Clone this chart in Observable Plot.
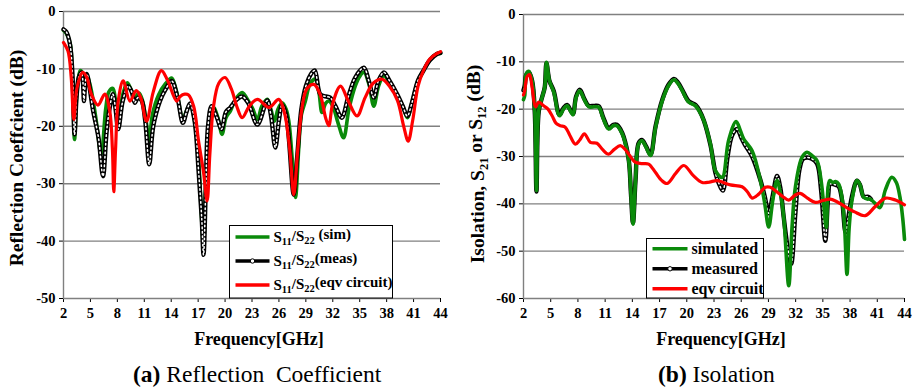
<!DOCTYPE html>
<html><head><meta charset="utf-8">
<script src="https://cdn.jsdelivr.net/npm/d3@7"></script>
<script src="https://cdn.jsdelivr.net/npm/@observablehq/plot@0.6"></script>
<style>
body{margin:0;background:#fff;}
#wrap{position:relative;width:917px;height:390px;font-family:"Liberation Serif","Times New Roman",serif;overflow:hidden;}
.panel{position:absolute;top:0;}
.panel text{font-family:"Liberation Serif","Times New Roman",serif;}
.cap{position:absolute;top:361px;font-size:23.5px;white-space:pre;line-height:26px;}
</style></head><body><div id="wrap"></div>
<script>
// ---------- data ----------
const xTicks = [2,5,8,11,14,17,20,23,26,29,32,35,38,41,44];
const yTicksA = [0,-10,-20,-30,-40,-50];
const yTicksB = [0,-10,-20,-30,-40,-50,-60];

// (a) Reflection coefficient
const reflSim = [[2,-3.3],[2.3,-3.8],[2.74,-5.5],[3.0,-12],[3.23,-22.3],[3.5,-14],[3.85,-10.3],[4.05,-10.5],[4.3,-13.4],[4.55,-11],[5.0,-13],[5.6,-18.5],[6.2,-24.9],[6.7,-17],[7.05,-14],[7.5,-13.4],[7.8,-15.5],[8.15,-18],[8.6,-14.5],[9.1,-12.4],[9.5,-13.5],[9.95,-15],[10.4,-14.2],[10.8,-15.5],[11.2,-19],[11.55,-22.6],[11.9,-18],[12.6,-14.5],[13.4,-12.5],[14.05,-11.6],[14.6,-14],[15.3,-18.8],[15.7,-17.3],[16.1,-16.2],[16.6,-19],[17.06,-26],[17.35,-35],[17.6,-41],[17.85,-30],[18.2,-21.4],[18.7,-16.7],[19.2,-18.5],[19.66,-21.4],[20.1,-18.5],[20.6,-17.3],[21.2,-15.2],[21.9,-14.1],[22.6,-15.6],[23.1,-17],[23.6,-18.8],[24.1,-16.5],[24.7,-15.3],[25.1,-17],[25.5,-19.1],[25.9,-17],[26.35,-15.9],[26.8,-17],[27.1,-19.1],[27.5,-26],[27.84,-32.4],[28.2,-24],[28.5,-18],[28.95,-15.6],[29.5,-12.5],[30.07,-11.8],[30.45,-14],[30.8,-17.6],[31.2,-16],[31.55,-15.6],[32.0,-16.5],[32.6,-19.5],[33.2,-22],[33.8,-17],[34.5,-13],[35.0,-11.3],[35.46,-10.6],[36.0,-12.5],[36.57,-16.5],[37.1,-13],[37.7,-11.2],[38.3,-12.5],[39.2,-15],[39.8,-16.5],[40.3,-18.5],[40.8,-16],[41.5,-12],[42.1,-10.3],[42.8,-8.5],[43.6,-7.4],[44,-7.3]];
const reflMeas = [[2,-3.1],[2.3,-3.5],[2.7,-5.5],[3.0,-11],[3.23,-21.4],[3.45,-15],[3.7,-11.5],[4.0,-10.6],[4.15,-12],[4.28,-15.6],[4.4,-13],[4.6,-10.9],[5.3,-17.3],[5.9,-22],[6.4,-28.7],[6.8,-21],[7.15,-16.7],[7.5,-14.4],[7.8,-17],[8.1,-20.5],[8.6,-15.6],[9.2,-13],[9.6,-14],[9.95,-15.9],[10.3,-15],[10.7,-15.5],[11.1,-19],[11.55,-26.6],[12.0,-20],[12.75,-15.6],[13.4,-13.5],[14.05,-12.1],[14.7,-15],[15.3,-19.4],[15.7,-17.5],[16.1,-16],[16.6,-19],[17.06,-28],[17.4,-36],[17.6,-42.4],[17.85,-31],[18.1,-20],[18.5,-16.5],[19.1,-18.5],[19.6,-20.5],[20.1,-17.5],[20.6,-16.7],[21.2,-15.5],[21.9,-14.8],[22.6,-16],[23.6,-19.7],[24.7,-15.5],[25.1,-18],[25.6,-23.7],[26.0,-19],[26.35,-16.3],[26.8,-18],[27.65,-31.9],[28.0,-26],[28.5,-17],[29.0,-13],[29.7,-10.6],[30.0,-10.3],[30.6,-14.4],[31.2,-14.8],[31.7,-15],[32.3,-16.5],[33.0,-18.5],[33.7,-15],[34.5,-11.5],[35.46,-9.8],[36.0,-12],[36.57,-15],[37.1,-12],[37.7,-10.6],[38.3,-12],[39.2,-14.5],[39.8,-16.5],[40.3,-18.2],[40.8,-16],[41.5,-12],[42.1,-10.3],[42.8,-8.5],[43.6,-7.4],[44,-7.2]];
const reflEqv = [[2,-5.4],[2.5,-6.9],[2.86,-11.5],[3.15,-18.8],[3.5,-13.3],[4.16,-10.6],[4.6,-11.5],[5.1,-14.4],[5.84,-16.3],[6.6,-14.4],[7.15,-17.3],[7.45,-24],[7.6,-31.4],[7.8,-24],[8.1,-15.6],[8.65,-12.1],[9.4,-15.6],[10.1,-13.8],[10.6,-15],[11.25,-19.1],[12.0,-14],[12.9,-10.3],[13.6,-12],[14.6,-15.6],[15.0,-14.8],[15.5,-14.4],[15.9,-14.5],[16.5,-16.5],[17.05,-22.6],[17.6,-28],[18.0,-33],[18.3,-25],[18.7,-16.7],[19.3,-12.5],[20.0,-11.5],[20.7,-13.5],[21.3,-16.5],[21.9,-18.5],[22.7,-16.5],[23.6,-15.3],[24.9,-16.7],[25.98,-15.3],[26.6,-17.5],[27.2,-24],[27.65,-31.9],[28.1,-24],[28.6,-16.5],[29.1,-13.5],[29.9,-12.7],[30.6,-14.5],[31.2,-18.5],[31.55,-19.9],[32.0,-16],[32.86,-13],[33.7,-15.5],[34.7,-18.2],[35.6,-15],[36.5,-12.5],[37.5,-11.8],[38.3,-13],[39.2,-15.5],[39.9,-20],[40.4,-22.6],[40.9,-19],[41.5,-13],[42.1,-10.3],[42.8,-8.3],[43.6,-7.3],[44,-7]];

// (b) Isolation
const isoSim = [[2,-18],[2.14,-17.1],[2.29,-12.6],[2.58,-12],[2.95,-14],[3.24,-20.3],[3.43,-37.2],[3.68,-20.3],[4.05,-17.5],[4.34,-15.4],[4.53,-10.1],[4.86,-14],[5.34,-16.4],[5.96,-21.4],[6.4,-20],[6.8,-19.3],[7.2,-20.5],[7.46,-21.2],[7.8,-17.5],[8.2,-16.1],[8.7,-18],[9.19,-19.5],[9.8,-19.5],[10.3,-19.6],[10.8,-22],[11.39,-24.2],[11.9,-23.5],[12.3,-23.5],[12.7,-24.5],[13.04,-26],[13.6,-30.9],[13.85,-38],[14.07,-44.3],[14.35,-35],[14.69,-27.4],[15.06,-26.7],[15.5,-28],[16.0,-29.8],[16.56,-23.8],[17.3,-18.2],[18.0,-15],[18.58,-13.8],[19.0,-14.5],[19.5,-16.1],[20.2,-18.5],[20.96,-19.3],[21.4,-20.5],[21.88,-22.4],[22.61,-27.4],[23.16,-33],[23.9,-34.4],[24.6,-26.7],[25.44,-22.6],[25.9,-24.5],[26.28,-26.3],[27.2,-28.8],[28.12,-35.1],[28.6,-40],[29.03,-44.9],[29.5,-39],[29.95,-35.1],[30.3,-37.5],[30.69,-42.9],[31.24,-57.3],[31.6,-45],[31.97,-36.5],[32.7,-30.2],[33.26,-29.1],[33.8,-29.8],[34.36,-30.9],[34.8,-35],[35.09,-40.1],[35.38,-45],[35.75,-35.1],[36.1,-35.5],[36.4,-35.3],[36.74,-35.8],[37.1,-38.6],[37.4,-45],[37.66,-54.9],[37.9,-45],[38.2,-39.4],[38.76,-35.1],[39.1,-36],[39.49,-38.6],[39.9,-39],[40.23,-39],[40.7,-39.8],[41.3,-40.8],[41.9,-37],[42.6,-34.4],[43.1,-35.5],[43.5,-38.6],[43.8,-43],[44,-47.5]];
const isoMeas = [[2,-16],[2.14,-15],[2.29,-12.8],[2.58,-12.2],[2.95,-14],[3.24,-20.5],[3.43,-37.4],[3.68,-20.5],[4.05,-17.5],[4.34,-15.4],[4.53,-10.3],[4.86,-14],[5.34,-16.2],[5.96,-21.2],[6.4,-19.8],[6.8,-19.1],[7.2,-20.3],[7.46,-21],[7.8,-17.3],[8.2,-15.9],[8.7,-17.8],[9.19,-19.3],[9.8,-19.3],[10.3,-19.4],[10.8,-21.8],[11.39,-24],[11.9,-23.3],[12.3,-23.3],[12.7,-24.3],[13.04,-25.8],[13.6,-30.7],[13.85,-38],[14.07,-44],[14.35,-35],[14.69,-27.2],[15.06,-26.5],[15.5,-27.8],[16.0,-29.6],[16.56,-23.6],[17.3,-18],[18.0,-14.8],[18.58,-13.6],[19.0,-14.3],[19.5,-15.9],[20.2,-18.3],[20.96,-19.1],[21.4,-20.3],[21.88,-22.4],[22.61,-27.6],[23.16,-33.5],[23.5,-35.5],[23.97,-37.2],[24.5,-30],[25.0,-25.5],[25.55,-24.2],[26.0,-26],[26.4,-27.5],[27.2,-30],[28.12,-35],[28.6,-38.5],[29.03,-42],[29.5,-38],[29.95,-34.1],[30.3,-36.5],[30.69,-42.9],[31.1,-49],[31.5,-52.7],[31.97,-42],[32.4,-33],[32.8,-30.5],[33.26,-30.2],[33.8,-30.5],[34.36,-31.5],[34.8,-37],[35.27,-47.8],[35.6,-38],[35.8,-35.8],[36.4,-36],[36.74,-36.3],[37.1,-39],[37.5,-46],[37.8,-43],[38.2,-38.5],[38.76,-35.1],[39.1,-36],[39.5,-38.5],[40.0,-38.5],[40.3,-39]];
const isoEqv = [[2,-17],[2.14,-16.1],[2.4,-13.1],[2.66,-12.7],[2.95,-15.4],[3.32,-19.5],[3.68,-18.5],[4.23,-19.3],[4.7,-20],[5.15,-21.4],[5.6,-23],[6.07,-23.5],[6.6,-23.8],[7.1,-25.5],[7.72,-27.4],[8.2,-26.5],[8.71,-25.2],[9.37,-27],[10.1,-27.2],[10.7,-28.5],[11.39,-29.5],[12.0,-28.5],[12.67,-27.7],[13.2,-28.5],[13.6,-29.5],[14.32,-31.2],[15.0,-31.5],[15.79,-31.6],[16.56,-33.4],[17.2,-35],[17.84,-35.7],[18.8,-33.5],[19.68,-31.9],[20.7,-34],[21.7,-35.5],[22.5,-35.4],[23.35,-35.1],[24.8,-36],[26.1,-36.4],[26.7,-37.5],[27.2,-38.8],[27.9,-38],[28.67,-36.5],[29.22,-36.5],[29.95,-37.5],[30.6,-38.5],[31.24,-39.2],[31.9,-38.2],[32.5,-37.8],[33.3,-38.8],[34.17,-39.7],[35.0,-39.3],[35.8,-39],[36.5,-39.5],[37.29,-40.4],[38.5,-41.7],[39.67,-42.5],[40.8,-40.5],[41.9,-38.8],[43.0,-39.2],[44,-40.2]];

const legendA = ["S11/S22 (sim)","S11/S22(meas)","S11/S22(eqv circuit)"];
const legendB = ["simulated","measured","eqv circuit"];
const GREEN = "#0a8a0a", RED = "#ff0000", GRID = "#808080";
const FONT = '"Liberation Serif","Times New Roman",serif';

const toObj = a => a.map(([f,db]) => ({f, db}));

function makePanel(cfg){
  const sim = toObj(cfg.sim), meas = toObj(cfg.meas), eqv = toObj(cfg.eqv);
  const simMark = Plot.line(sim, {x:"f", y:"db", stroke:GREEN, strokeWidth:3.6, curve:"catmull-rom"});
  const measMarks = [
    Plot.line(meas, {x:"f", y:"db", stroke:"#000", strokeWidth:4.4, curve:"catmull-rom"}),
    Plot.line(meas, {x:"f", y:"db", stroke:"#fff", strokeWidth:1.5, strokeDasharray:"1.5,2.8", curve:"catmull-rom"})
  ];
  const order = cfg.greenOnTop ? [...measMarks, simMark] : [simMark, ...measMarks];
  return Plot.plot({
    width: cfg.width, height: 352,
    marginLeft: cfg.ml, marginRight: cfg.mr, marginTop: cfg.mt, marginBottom: 54,
    x: {domain:[2,44], ticks: xTicks, tickFormat: d => String(d), tickSize:4, tickPadding:5, label:null},
    y: {domain:[cfg.ymin,0], ticks: cfg.yTicks, tickFormat: d => String(d), tickSize:4, tickPadding:4, label:null},
    style: {fontFamily:FONT, fontSize:"14.5px", fontWeight:"bold", color:"#000", background:"white", overflow:"visible"},
    marks: [
      Plot.ruleY(cfg.yTicks, {stroke:GRID, strokeWidth:1.4}),
      Plot.ruleX([2], {stroke:GRID, strokeWidth:1.4}),
      ...order,
      Plot.line(eqv, {x:"f", y:"db", stroke:RED, strokeWidth:3.2, curve:"catmull-rom"})
    ]
  });
}

function subText(sel, str, small){
  const re = /S(\d\d)/g; let last = 0, m, down = false;
  const add = t => { const ts = sel.append("tspan").text(t); if (down){ ts.attr("dy","-0.3em"); down = false; } return ts; };
  while ((m = re.exec(str))){
    if (m.index > last) add(str.slice(last, m.index));
    add("S");
    sel.append("tspan").text(m[1]).attr("font-size", small).attr("dy","0.3em");
    down = true; last = re.lastIndex;
  }
  if (last < str.length) add(str.slice(last));
}

const wrap = document.getElementById("wrap");
const pa = makePanel({width:458, ml:63, mr:18, mt:11, ymin:-50, yTicks:yTicksA, sim:reflSim, meas:reflMeas, eqv:reflEqv, greenOnTop:false});
pa.classList.add("panel"); pa.style.left = "0px"; wrap.appendChild(pa);
const pb = makePanel({width:457, ml:63, mr:13, mt:14, ymin:-60, yTicks:yTicksB, sim:isoSim, meas:isoMeas, eqv:isoEqv, greenOnTop:true});
pb.classList.add("panel"); pb.style.left = "460px"; wrap.appendChild(pb);

function decorate(svg, o){
  const s = d3.select(svg);
  s.append("text").attr("x", o.xTitleX).attr("y", 345).attr("text-anchor","middle")
    .attr("font-family",FONT).attr("font-size",18).attr("font-weight","bold").text("Frequency[GHz]");
  const yt = s.append("text").attr("transform",`translate(${o.yTitleX},${o.yTitleY}) rotate(-90)`)
    .attr("text-anchor","middle").attr("font-family",FONT).attr("font-size",19.5).attr("font-weight","bold");
  subText(yt, o.yTitle, 12.5);
  const g = s.append("g").attr("font-family",FONT).attr("font-weight","bold").attr("font-size",o.fs).attr("text-anchor","start");
  g.append("rect").attr("x",o.lx).attr("y",o.ly).attr("width",o.lw).attr("height",o.lh)
    .attr("fill","white").attr("stroke","#000").attr("stroke-width",1);
  const cols = [GREEN, "#000", RED];
  o.labels.forEach((lab, i) => {
    const y = o.ly + o.row0 + i*o.rowH;
    g.append("line").attr("x1",o.lx+6).attr("x2",o.lx+6+o.lineLen).attr("y1",y).attr("y2",y)
      .attr("stroke",cols[i]).attr("stroke-width", 3.6);
    if (i===1) g.append("circle").attr("cx",o.lx+6+o.lineLen/2).attr("cy",y).attr("r",2.2).attr("fill","white").attr("stroke","#000").attr("stroke-width",1);
    const t = g.append("text").attr("x",o.lx+6+o.lineLen+4).attr("y",y+5).attr("text-anchor","start");
    subText(t, lab, 10.5);
  });
}
decorate(pa, {xTitleX:259, yTitleX:23, yTitleY:158, yTitle:"Reflection Coeffcient (dB)", fs:15,
  lx:229.5, ly:225.5, lw:163, lh:72.5, row0:11.5, rowH:24, lineLen:34, labels:legendA});
decorate(pb, {xTitleX:261, yTitleX:24, yTitleY:164, yTitle:"Isolation, S21 or S12 (dB)", fs:16,
  lx:186.5, ly:238.5, lw:117, lh:59.5, row0:10.3, rowH:20, lineLen:35, labels:legendB});

function caption(left, bold, rest){
  const d = document.createElement("div"); d.className = "cap"; d.style.left = left + "px";
  const b = document.createElement("b"); b.textContent = bold; d.appendChild(b);
  d.appendChild(document.createTextNode(rest)); wrap.appendChild(d);
}
caption(133, "(a)", " Reflection  Coefficient");
caption(658, "(b)", " Isolation");
</script></body></html>
